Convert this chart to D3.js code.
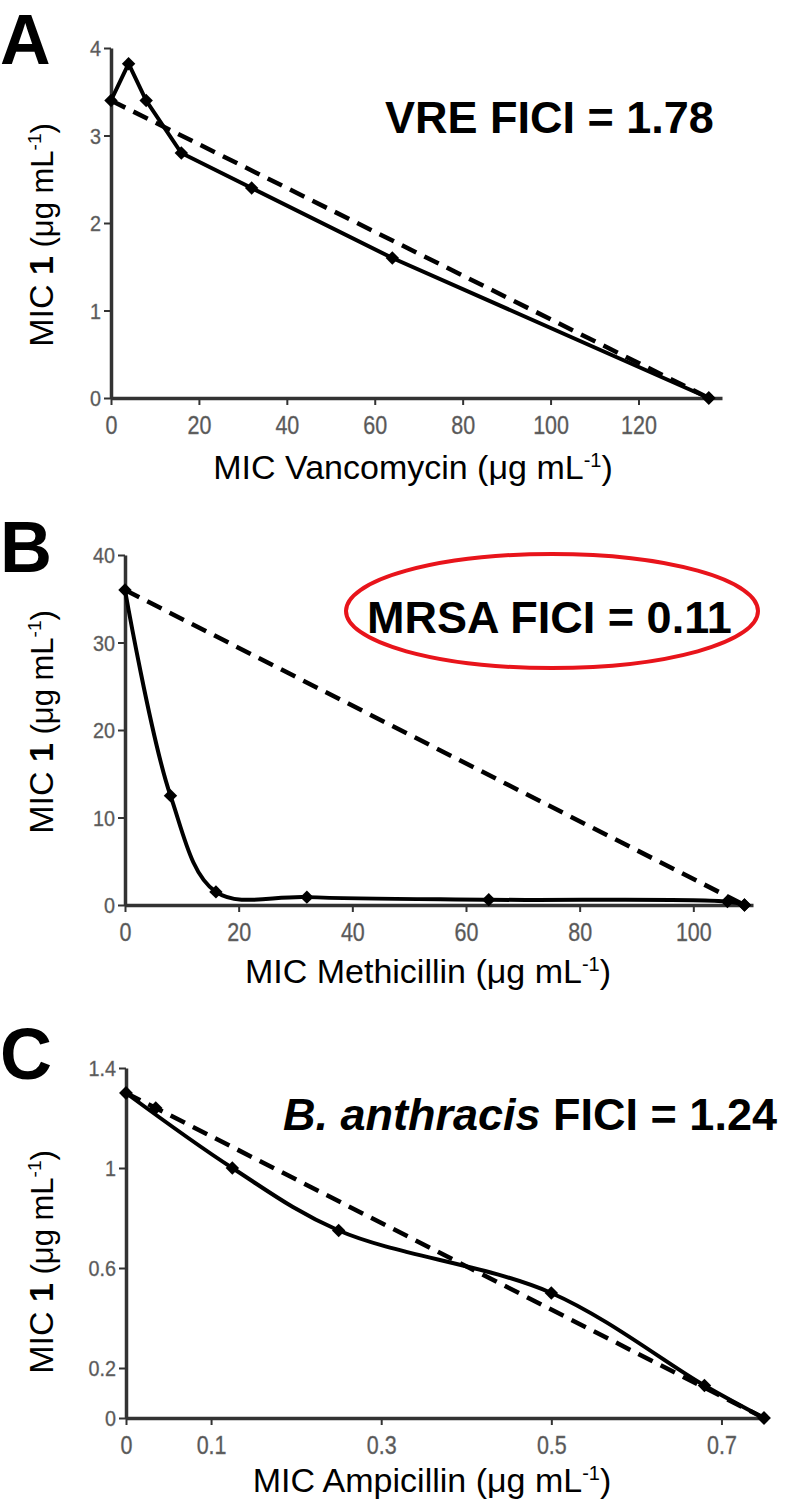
<!DOCTYPE html>
<html><head><meta charset="utf-8">
<script src="https://cdn.jsdelivr.net/npm/d3@7"></script>
<style>body{margin:0;background:#fff}</style>
</head><body><svg id="c" width="785" height="1505"></svg>
<script>
// ---------- data ----------
const aSolidX = [0, 4, 8, 16, 32, 64, 136];
const aSolidY = [3.4, 3.82, 3.4, 2.8, 2.4, 1.6, 0];
const aDashX = [0, 136];
const aDashY = [3.4, 0];
const aXTicks = [0, 20, 40, 60, 80, 100, 120];
const aYTicks = [0, 1, 2, 3, 4];

const bSolidX = [0, 8, 16, 32, 64, 106, 109];
const bSolidY = [36, 12.5, 1.5, 0.9, 0.6, 0.4, 0];
const bDashX = [0, 109];
const bDashY = [36, 0];
const bXTicks = [0, 20, 40, 60, 80, 100];
const bYTicks = [0, 10, 20, 30, 40];

const cSolidX = [0, 0.125, 0.25, 0.5, 0.68, 0.75];
const cSolidY = [1.3, 1.0, 0.75, 0.5, 0.13, 0];
const cDashX = [0, 0.035, 0.75];
const cDashY = [1.3, 1.24, 0];
const cXTicks = [0, 0.1, 0.3, 0.5, 0.7];
const cYTicks = [0, 0.2, 0.6, 1, 1.4];

const panelLetters = ["A", "B", "C"];
const xTitles = ["MIC Vancomycin", "MIC Methicillin", "MIC Ampicillin"];

// ---------- layout ----------
const svg = d3.select("#c");
const sans = "'Liberation Sans', Arial, Helvetica, sans-serif";

const panels = [
  {letter: panelLetters[0], letterY: 64, letterSize: 70, sx: aSolidX, sy: aSolidY, dx: aDashX, dy: aDashY,
   xt: aXTicks, yt: aYTicks, xDom: [0, 139], xRange: [111, 722], yDom: [0, 4], yRange: [398, 48],
   xTitle: xTitles[0], xTitleX: 413, xTitleY: 479, yTitleY: 235, curve: d3.curveLinear, dashMarkers: false},
  {letter: panelLetters[1], letterY: 572, letterSize: 72, sx: bSolidX, sy: bSolidY, dx: bDashX, dy: bDashY,
   xt: bXTicks, yt: bYTicks, xDom: [0, 110.5], xRange: [125, 753], yDom: [0, 40], yRange: [905, 555],
   xTitle: xTitles[1], xTitleX: 428, xTitleY: 983, yTitleY: 722, curve: d3.curveCatmullRom.alpha(0.5), dashMarkers: false},
  {letter: panelLetters[2], letterY: 1079, letterSize: 72, sx: cSolidX, sy: cSolidY, dx: cDashX, dy: cDashY,
   xt: cXTicks, yt: cYTicks, xDom: [0, 0.75], xRange: [126, 764], yDom: [0, 1.4], yRange: [1418, 1068],
   xTitle: xTitles[2], xTitleX: 432, xTitleY: 1492, yTitleY: 1262, curve: d3.curveCatmullRom.alpha(0.5), dashMarkers: true}
];

const diamond = d3.symbol().type(d3.symbolSquare).size(90);

panels.forEach(p => {
  const x = d3.scaleLinear().domain(p.xDom).range(p.xRange);
  const y = d3.scaleLinear().domain(p.yDom).range(p.yRange);
  const g = svg.append("g");

  // panel letter
  svg.append("text").attr("x", 0).attr("y", p.letterY)
    .attr("font-family", sans).attr("font-weight", "bold").attr("font-size", p.letterSize)
    .text(p.letter);

  // axes
  const xa = g.append("g").attr("transform", `translate(0,${p.yRange[0]})`)
    .call(d3.axisBottom(x).tickValues(p.xt).tickSize(7).tickSizeOuter(0).tickPadding(11)
      .tickFormat(d => String(d)));
  const ya = g.append("g").attr("transform", `translate(${p.xRange[0]},0)`)
    .call(d3.axisLeft(y).tickValues(p.yt).tickSize(7).tickSizeOuter(0).tickPadding(4)
      .tickFormat(d => String(d)));
  [xa, ya].forEach(a => {
    a.select(".domain").attr("stroke", "#333").attr("stroke-width", 3.5);
    a.selectAll(".tick line").attr("stroke", "#333").attr("stroke-width", 2);
    a.selectAll(".tick text").attr("fill", "#555").attr("font-family", sans)
      .attr("stroke", "#777").attr("stroke-width", 0.4);
  });
  xa.selectAll(".tick text").attr("font-size", 25).attr("transform", "scale(0.86,1)");
  ya.selectAll(".tick text").attr("font-size", 22).attr("dy", "0.36em").attr("transform", "scale(0.9,1)");

  // dashed line
  const dashData = p.dx.map((v, i) => [v, p.dy[i]]);
  g.append("path").datum(dashData)
    .attr("d", d3.line().x(d => x(d[0])).y(d => y(d[1])))
    .attr("fill", "none").attr("stroke", "#000").attr("stroke-width", 4.5)
    .attr("stroke-dasharray", "16,9");

  // solid line
  const solidData = p.sx.map((v, i) => [v, p.sy[i]]);
  g.append("path").datum(solidData)
    .attr("d", d3.line().curve(p.curve).x(d => x(d[0])).y(d => y(d[1])))
    .attr("fill", "none").attr("stroke", "#000").attr("stroke-width", 4);

  const markerData = p.dashMarkers ? solidData.concat(dashData) : solidData.concat(dashData.slice(-1));
  g.selectAll(".m").data(markerData).enter().append("path")
    .attr("d", diamond)
    .attr("transform", d => `translate(${x(d[0])},${y(d[1])}) rotate(45)`)
    .attr("fill", "#000");

  // x title
  const xt = svg.append("text").attr("x", p.xTitleX).attr("y", p.xTitleY)
    .attr("text-anchor", "middle").attr("font-family", sans).attr("font-size", 34).attr("fill", "#000");
  xt.append("tspan").text(p.xTitle + " (\u03BCg mL");
  xt.append("tspan").attr("dy", -12).attr("font-size", 20).text("-1");
  xt.append("tspan").attr("dy", 12).text(")");

  // y title
  const yt = svg.append("text").attr("transform", `translate(53,${p.yTitleY}) rotate(-90)`)
    .attr("text-anchor", "middle").attr("font-family", sans).attr("font-size", 34).attr("fill", "#000");
  yt.append("tspan").text("MIC ");
  yt.append("tspan").attr("font-weight", "bold").text("1");
  yt.append("tspan").attr("font-size", 31).text(" (\u03BCg mL");
  yt.append("tspan").attr("dy", -12).attr("font-size", 19).text("-1");
  yt.append("tspan").attr("dy", 12).attr("font-size", 31).text(")");
});

// annotations
svg.append("text").attr("x", 385).attr("y", 133)
  .attr("font-family", sans).attr("font-weight", "bold").attr("font-size", 45)
  .text("VRE FICI = 1.78");

svg.append("ellipse").attr("cx", 552).attr("cy", 611).attr("rx", 206).attr("ry", 57)
  .attr("fill", "none").attr("stroke", "#e8141b").attr("stroke-width", 4);
svg.append("text").attr("x", 367).attr("y", 633)
  .attr("font-family", sans).attr("font-weight", "bold").attr("font-size", 45)
  .text("MRSA FICI = 0.11");

const ct = svg.append("text").attr("x", 283).attr("y", 1130)
  .attr("font-family", sans).attr("font-weight", "bold").attr("font-size", 45);
ct.append("tspan").attr("font-style", "italic").text("B. anthracis");
ct.append("tspan").text(" FICI = 1.24");
</script>
</body></html>
